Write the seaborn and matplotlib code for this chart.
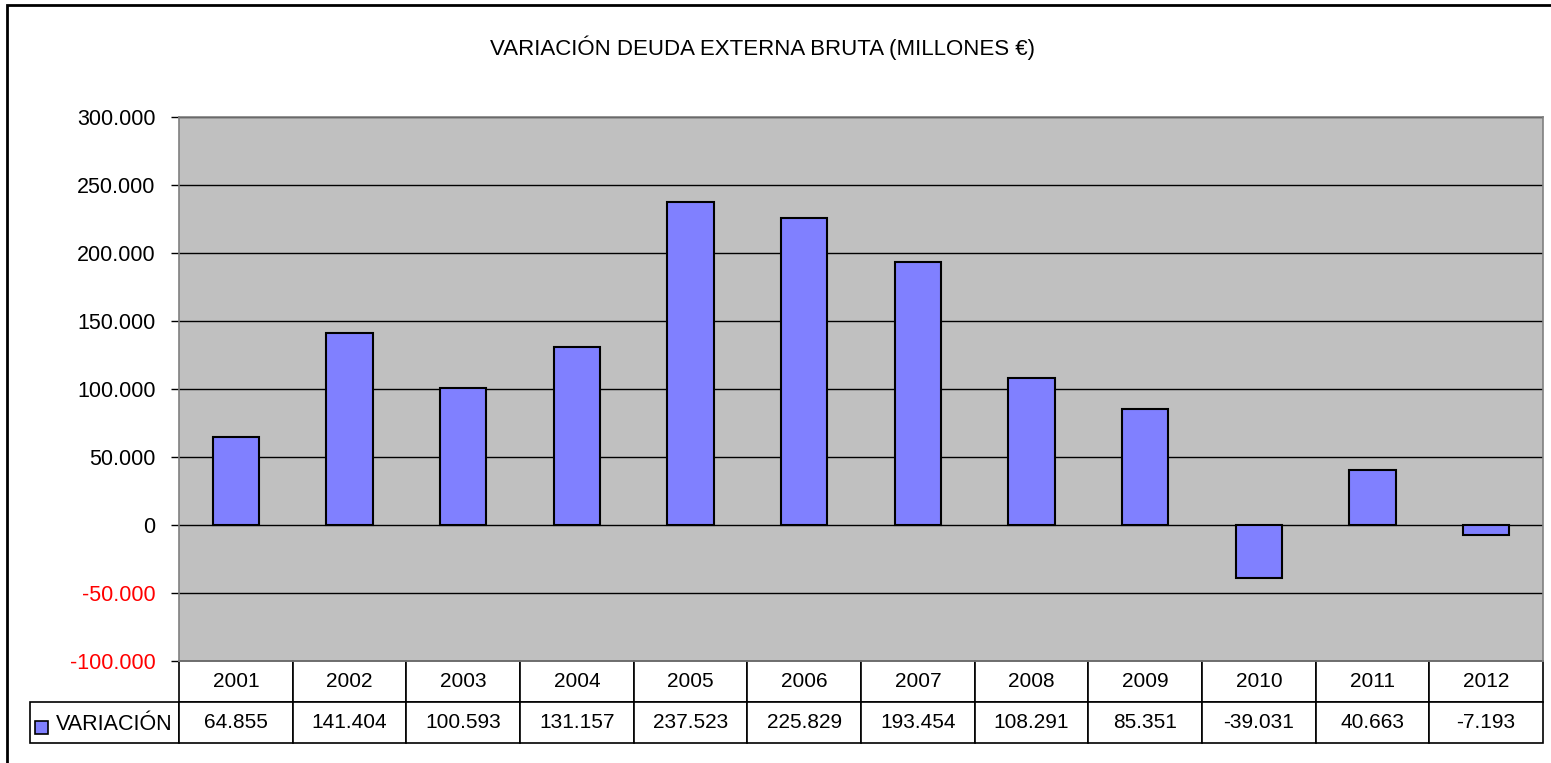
import matplotlib
matplotlib.use("Agg")
import matplotlib.pyplot as plt
import matplotlib.patches as patches
import seaborn as sns
import pandas as pd

years = ["2001", "2002", "2003", "2004", "2005", "2006",
         "2007", "2008", "2009", "2010", "2011", "2012"]
variacion = [64855, 141404, 100593, 131157, 237523, 225829,
             193454, 108291, 85351, -39031, 40663, -7193]
y_ticks = [-100000, -50000, 0, 50000, 100000, 150000, 200000, 250000, 300000]
series_name = "VARIACIÓN"
title = "VARIACIÓN DEUDA EXTERNA BRUTA (MILLONES €)"

bar_color = "#8080FF"


def fmt(v):
    return f"{v:,}".replace(",", ".")


df = pd.DataFrame({"year": years, "value": variacion})

sns.set_style("white")
plt.rcParams["font.family"] = ["Liberation Sans", "DejaVu Sans"]
plt.rcParams["text.color"] = "black"
plt.rcParams["ytick.color"] = "black"

W, H = 1551, 763
fig = plt.figure(figsize=(W / 100, H / 100), dpi=100)

# plot area in pixel terms
left, right, top, bottom = 179, 1543, 117, 661
ax = fig.add_axes([left / W, 1 - bottom / H, (right - left) / W, (bottom - top) / H])
ax.set_facecolor("#C0C0C0")

for yt in y_ticks:
    ax.axhline(yt, color="black", linewidth=1, zorder=1)

sns.barplot(data=df, x="year", y="value", color=bar_color, saturation=1,
            edgecolor="black", linewidth=1.5, width=0.41, ax=ax, zorder=3)

ax.set_xlim(-0.5, len(years) - 0.5)
ax.set_ylim(-100000, 300000)
ax.set_yticks(y_ticks)
ax.set_yticklabels([fmt(t) for t in y_ticks], fontsize=15.5)
for lab, t in zip(ax.get_yticklabels(), y_ticks):
    lab.set_color("red" if t < 0 else "black")
ax.tick_params(axis="y", length=6, width=1, pad=11, left=True, color="black")
ax.set_xticks([])
ax.set_xlabel("")
ax.set_ylabel("")
for s in ax.spines.values():
    s.set_color("#808080")
    s.set_linewidth(1.2)

# data table beneath the plot area
tbl_left, tbl_right, tbl_bottom = 30, 1543, 743
label_w = left - tbl_left
col_w = (right - left) / len(years)
total_w = tbl_right - tbl_left
cell_text = [[""] + years, [""] + [fmt(v) for v in variacion]]
col_widths = [label_w / total_w] + [col_w / total_w] * len(years)
tbl = ax.table(cellText=cell_text, colWidths=col_widths, cellLoc="center",
               bbox=[(tbl_left - left) / (right - left),
                     -(tbl_bottom - bottom) / (bottom - top),
                     total_w / (right - left),
                     (tbl_bottom - bottom) / (bottom - top)])
tbl.auto_set_font_size(False)
tbl.set_fontsize(15)
for (r, c), cell in tbl.get_celld().items():
    cell.set_edgecolor("black")
    cell.set_linewidth(1.2)
    cell.set_facecolor("white")
    cell.get_text().set_color("black")
tbl[0, 0].visible_edges = "open"

# legend key + series name in the row label cell
fig.patches.append(patches.Rectangle((35 / W, 1 - 734 / H), 13 / W, 13 / H,
                                     transform=fig.transFigure, facecolor=bar_color,
                                     edgecolor="black", linewidth=1.2))
fig.text(56 / W, 1 - 724 / H, series_name, fontsize=15.5, va="center", ha="left")

fig.text(763 / W, 1 - 48 / H, title, fontsize=16, ha="center", va="center")

# outer chart border
fig.patches.append(patches.Rectangle((7 / W, -0.05), 1.1, 1 - 5 / H + 0.05,
                                     transform=fig.transFigure, fill=False,
                                     edgecolor="black", linewidth=2))

fig.savefig("out.png", dpi=100)
